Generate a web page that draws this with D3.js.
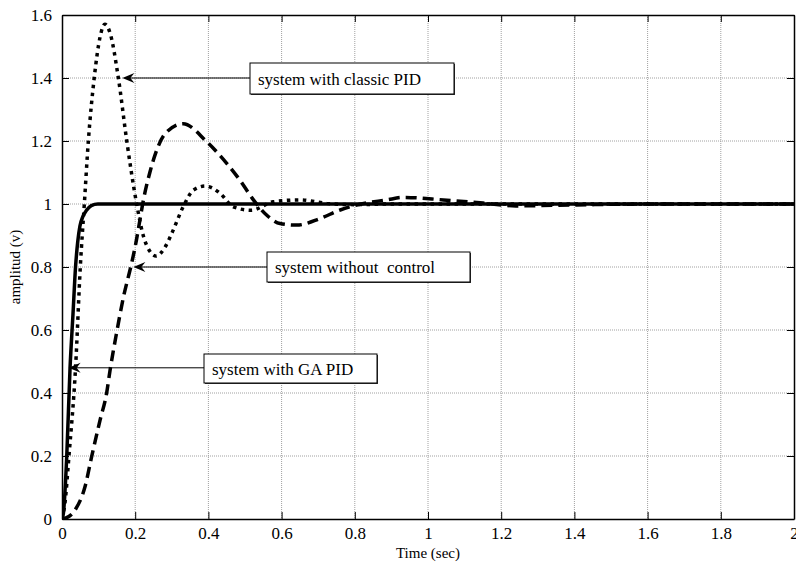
<!DOCTYPE html>
<html>
<head>
<meta charset="utf-8">
<script src="https://cdn.jsdelivr.net/npm/d3@7"></script>
<style>
  body { margin: 0; background: #fff; }
  text { font-family: "Liberation Serif", "Times New Roman", serif; fill: #000; }
</style>
</head>
<body>
<div id="chart"></div>
<script>
// values
const xTicks = [0, 0.2, 0.4, 0.6, 0.8, 1, 1.2, 1.4, 1.6, 1.8, 2];
const yTicks = [0, 0.2, 0.4, 0.6, 0.8, 1, 1.2, 1.4, 1.6];

const gaTime = [0, 0.004, 0.013, 0.022, 0.030, 0.037, 0.043, 0.049, 0.057, 0.067, 0.080, 0.098, 0.2, 1, 2];
const gaAmp  = [0, 0.02, 0.20, 0.48, 0.65, 0.80, 0.88, 0.93, 0.96, 0.98, 0.995, 1.0, 1.0, 1.0, 1.0];

const pidTime = [0, 0.008, 0.019, 0.037, 0.050, 0.061, 0.072, 0.088, 0.104, 0.117, 0.132, 0.154, 0.177, 0.204, 0.222, 0.240, 0.257, 0.280, 0.300, 0.331, 0.359, 0.391, 0.432, 0.468, 0.517, 0.577, 0.650, 0.723, 0.800, 0.900, 1.0, 1.2, 1.5, 2];
const pidAmp  = [0, 0.05, 0.20, 0.48, 0.80, 1.00, 1.20, 1.40, 1.53, 1.571, 1.54, 1.40, 1.20, 1.00, 0.90, 0.85, 0.835, 0.86, 0.907, 0.991, 1.044, 1.057, 1.034, 0.991, 0.980, 1.007, 1.013, 1.002, 0.998, 1.0, 1.0, 1.0, 1.0, 1.0];

const ncTime = [0, 0.008, 0.036, 0.063, 0.081, 0.104, 0.122, 0.131, 0.149, 0.168, 0.189, 0.200, 0.213, 0.222, 0.240, 0.254, 0.281, 0.331, 0.395, 0.450, 0.486, 0.523, 0.559, 0.596, 0.641, 0.705, 0.760, 0.805, 0.887, 0.933, 1.042, 1.150, 1.240, 1.400, 1.600, 2];
const ncAmp  = [0, 0.002, 0.029, 0.103, 0.198, 0.314, 0.400, 0.470, 0.590, 0.705, 0.806, 0.865, 0.950, 1.010, 1.100, 1.155, 1.222, 1.255, 1.198, 1.129, 1.076, 1.013, 0.965, 0.938, 0.933, 0.954, 0.981, 0.997, 1.013, 1.021, 1.013, 1.003, 0.994, 0.997, 1.0, 1.0];

const notes = [
  {label: "system with classic PID", box: [250, 63, 204, 31], tipT: 0.165, tipV: 1.4},
  {label: "system without  control", box: [267, 252, 203, 30], tipT: 0.195, tipV: 0.8},
  {label: "system with GA PID",      box: [204, 354, 173, 29], tipT: 0.018, tipV: 0.48}
];

const margin = {top: 15, right: 2, bottom: 45, left: 62},
      width = 796 - margin.left - margin.right,
      height = 564 - margin.top - margin.bottom;

const svg = d3.select("#chart")
              .append("svg")
              .attr("width", 796)
              .attr("height", 564);

const g = svg.append("g")
             .attr("transform", `translate(${margin.left},${margin.top})`);

const x = d3.scaleLinear().domain([0, 2]).range([0, width]);
const y = d3.scaleLinear().domain([0, 1.6]).range([height, 0]);

// grid
g.append("g")
 .selectAll("line")
 .data(xTicks.slice(1, -1))
 .enter().append("line")
 .attr("x1", d => x(d)).attr("x2", d => x(d))
 .attr("y1", 0).attr("y2", height)
 .attr("stroke", "#a0a0a0").attr("stroke-width", 1)
 .attr("stroke-dasharray", "1,1");

g.append("g")
 .selectAll("line")
 .data(yTicks.slice(1, -1))
 .enter().append("line")
 .attr("x1", 0).attr("x2", width)
 .attr("y1", d => y(d)).attr("y2", d => y(d))
 .attr("stroke", "#a0a0a0").attr("stroke-width", 1)
 .attr("stroke-dasharray", "1,1");

// axes with inward ticks on all four sides
const fmt = d => String(d);
const axB = g.append("g").attr("transform", `translate(0,${height})`)
  .call(d3.axisBottom(x).tickValues(xTicks).tickFormat(fmt).tickSizeInner(-7).tickSizeOuter(0).tickPadding(8));
const axL = g.append("g")
  .call(d3.axisLeft(y).tickValues(yTicks).tickFormat(fmt).tickSizeInner(-7).tickSizeOuter(0).tickPadding(10));
const axT = g.append("g")
  .call(d3.axisTop(x).tickValues(xTicks).tickFormat("").tickSizeInner(-7).tickSizeOuter(0));
const axR = g.append("g").attr("transform", `translate(${width},0)`)
  .call(d3.axisRight(y).tickValues(yTicks).tickFormat("").tickSizeInner(-7).tickSizeOuter(0));

[axB, axL, axT, axR].forEach(a => {
  a.attr("font-family", "Liberation Serif").attr("font-size", 17);
  a.select(".domain").attr("stroke", "#000").attr("stroke-width", 1.5);
  a.selectAll(".tick line").attr("stroke", "#000");
  a.selectAll("text").attr("font-family", "Liberation Serif").attr("font-size", 17);
});

// clip
svg.append("clipPath").attr("id", "clip")
   .append("rect").attr("width", width).attr("height", height + 2).attr("y", -2);

const line = d3.line()
               .x(d => x(d[0]))
               .y(d => y(d[1]))
               .curve(d3.curveMonotoneX);

const plot = g.append("g").attr("clip-path", "url(#clip)");

plot.append("path")
    .datum(d3.zip(ncTime, ncAmp))
    .attr("d", line)
    .attr("fill", "none").attr("stroke", "#000")
    .attr("stroke-width", 3.5)
    .attr("stroke-dasharray", "11,6");

plot.append("path")
    .datum(d3.zip(pidTime, pidAmp))
    .attr("d", line)
    .attr("fill", "none").attr("stroke", "#000")
    .attr("stroke-width", 3.5)
    .attr("stroke-dasharray", "3.5,4.5");

plot.append("path")
    .datum(d3.zip(gaTime, gaAmp))
    .attr("d", line)
    .attr("fill", "none").attr("stroke", "#000")
    .attr("stroke-width", 3.5);

// annotations
const ann = svg.append("g");
notes.forEach(n => {
  const [bx, by, bw, bh] = n.box;
  const tx = margin.left + x(n.tipT);
  const ty = margin.top + y(n.tipV);
  ann.append("line")
     .attr("x1", bx).attr("y1", ty).attr("x2", tx + 4).attr("y2", ty)
     .attr("stroke", "#000").attr("stroke-width", 1);
  ann.append("path")
     .attr("d", `M${tx},${ty} L${tx + 12},${ty - 5} L${tx + 8},${ty} L${tx + 12},${ty + 5} Z`)
     .attr("fill", "#000");
  ann.append("rect")
     .attr("x", bx + 1).attr("y", by + 1).attr("width", bw).attr("height", bh)
     .attr("fill", "#333");
  ann.append("rect")
     .attr("x", bx).attr("y", by).attr("width", bw).attr("height", bh)
     .attr("fill", "#fff").attr("stroke", "#000").attr("stroke-width", 1);
  ann.append("text")
     .attr("x", bx + 8).attr("y", by + bh / 2 + 6)
     .style("font-size", "17px")
     .attr("xml:space", "preserve")
     .style("white-space", "pre")
     .text(n.label);
});

// axis titles
svg.append("text")
   .attr("x", margin.left + width / 2).attr("y", 558)
   .attr("text-anchor", "middle")
   .style("font-size", "15px")
   .text("Time (sec)");

svg.append("text")
   .attr("transform", `translate(20,${margin.top + height / 2}) rotate(-90)`)
   .attr("text-anchor", "middle")
   .style("font-size", "15px")
   .text("amplitud (v)");
</script>
</body>
</html>
